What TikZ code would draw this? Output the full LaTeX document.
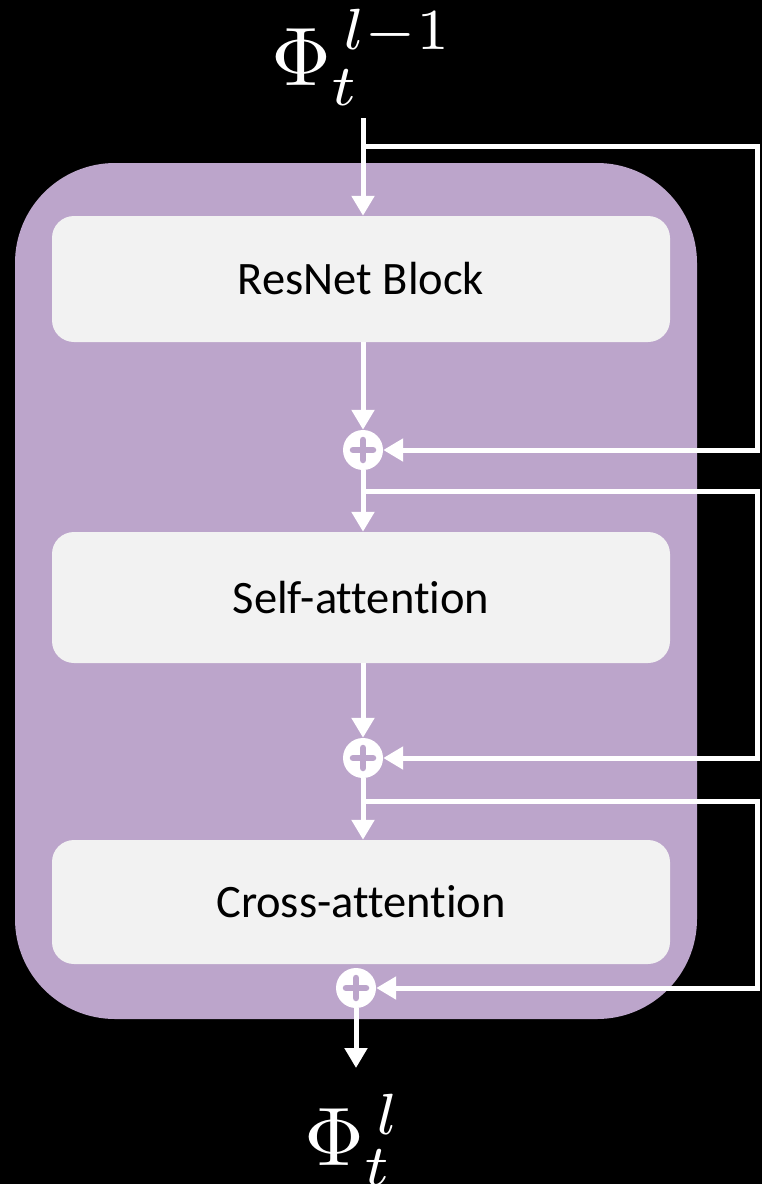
\documentclass[tikz,border=0pt]{standalone}
\usepackage{fontspec}
\setmainfont{Carlito}[Ligatures=NoCommon]
\usetikzlibrary{arrows.meta,calc}
\definecolor{blockpurple}{RGB}{188,165,203}
\definecolor{boxgray}{RGB}{242,242,242}
\tikzset{
  stagebox/.style={draw=none, fill=boxgray, rounded corners=22pt, minimum width=618pt,
    inner sep=0pt, font=\fontsize{46.5}{50}\selectfont, text=black},
  addnode/.style={circle, fill=white, minimum size=40pt, inner sep=0pt,
    path picture={
      \draw[draw=blockpurple, line width=6.5pt, line cap=round]
        ([xshift=-10pt]path picture bounding box.center) -- ([xshift=10pt]path picture bounding box.center)
        ([yshift=-10pt]path picture bounding box.center) -- ([yshift=10pt]path picture bounding box.center);}},
  wire/.style={draw=white, line width=5pt},
  flow/.style={wire, -{Triangle[length=20pt,width=22pt]}},
  mathlabel/.style={text=white, inner sep=0pt, anchor=base west}
}
\begin{document}
\begin{tikzpicture}[x=1pt, y=-1pt]
  % canvas
  \fill[black] (0,0) rectangle (762,1184);
  \useasboundingbox (0,0) rectangle (762,1184);

  % outer block
  \fill[blockpurple, rounded corners=100pt] (15,163) rectangle (697,1019);

  % stages
  \node[stagebox, minimum height=126pt] (res) at (361,279) {ResNet Block};
  \node[stagebox, minimum height=131pt] (self) at (361,597.5) {Self-attention};
  \node[stagebox, minimum height=124pt] (cross) at (361,902) {Cross-attention};

  % residual additions
  \node[addnode] (p1) at (363,450) {};
  \node[addnode] (p2) at (363,758) {};
  \node[addnode] (p3) at (356,988) {};

  % input / output
  \node[mathlabel] (xin) at (271,85) {\scalebox{8.3}{$\Phi_t^{\kern1.5pt l-1}$}};
  \node[mathlabel] (xout) at (304,1165) {\scalebox{8.3}{$\Phi_t^{\kern1.5pt l}$}};

  \coordinate (in) at (363,118);
  \coordinate (b1) at (363,146);
  \coordinate (r1) at (757,146);
  \coordinate (b2) at (363,491);
  \coordinate (r2) at (757,491);
  \coordinate (b3) at (363,801);
  \coordinate (r3) at (757,801);
  \coordinate (out) at (356,1068);

  % main path
  \draw[flow] (in) -- (in |- res.north);
  \draw[flow] (p1 |- res.south) -- (p1.north);
  \draw[flow] (p1.south) -- (p1 |- self.north);
  \draw[flow] (p2 |- self.south) -- (p2.north);
  \draw[flow] (p2.south) -- (p2 |- cross.north);
  \draw[flow] (p3.south) -- (out);

  % skip connections
  \draw[flow] (b1) -- (r1) |- (p1.east);
  \draw[flow] (b2) -- (r2) |- (p2.east);
  \draw[flow] (b3) -- (r3) |- (p3.east);
\end{tikzpicture}
\end{document}
